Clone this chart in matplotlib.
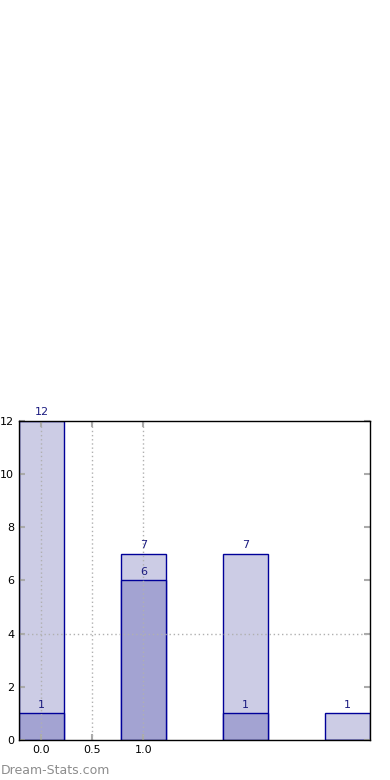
import matplotlib
matplotlib.use('Agg')
import matplotlib.pyplot as plt

positions = [0, 1, 2, 3]
totals = [12, 7, 7, 1]
inner = [1, 6, 1, 0]
xticks = [0.0, 0.5, 1.0]
yticks = [0, 2, 4, 6, 8, 10, 12]

light = '#ccccE5'
dark = '#a3a3d2'
edge = '#000099'
txt = '#1a1a80'

fig = plt.figure(figsize=(3.9, 7.8), dpi=100)
ax = fig.add_axes([0.0487, 0.0513, 0.9, 0.409])

ax.bar(positions, totals, width=0.44, color=light, edgecolor=edge, linewidth=1, zorder=1)
ax.bar(positions, inner, width=0.44, color=dark, edgecolor=edge, linewidth=1, zorder=1)

for x, v in zip(positions, totals):
    ax.annotate(str(v), (x, v), xytext=(0, 2.5), textcoords='offset points',
                ha='center', va='bottom', fontsize=8, color=txt)
for x, v in zip(positions, inner):
    if v > 0:
        ax.annotate(str(v), (x, v), xytext=(0, 2.5), textcoords='offset points',
                    ha='center', va='bottom', fontsize=8, color=txt)

# only a few grid lines are shown
for x in xticks:
    ax.axvline(x, color='#b0b0b0', linestyle=(0, (1, 2)), linewidth=1, zorder=2)
ax.axhline(4, color='#b0b0b0', linestyle=(0, (1, 2)), linewidth=1, zorder=2)

ax.set_xlim(-0.22, 3.22)
ax.set_ylim(0, 12)
ax.set_xticks(xticks)
ax.set_xticklabels(['0.0', '0.5', '1.0'])
ax.set_yticks(yticks)
ax.tick_params(axis='both', labelsize=8, direction='in', color='#aaaaaa',
               length=4, width=1.5, top=True, right=True)
for s in ax.spines.values():
    s.set_color('black')
    s.set_linewidth(1)

fig.text(0.002, 0.004, 'Dream-Stats.com', fontsize=9, color='#8c8c8c',
         ha='left', va='bottom')

fig.savefig('out.png', dpi=100)
plt.close()
